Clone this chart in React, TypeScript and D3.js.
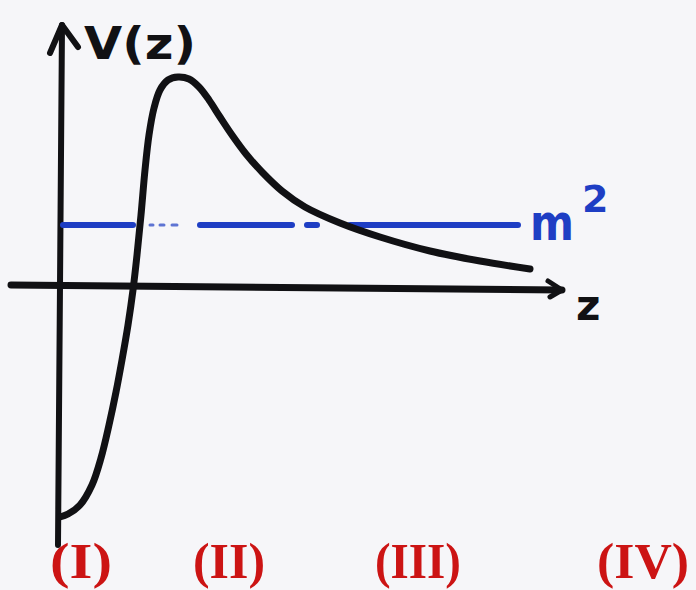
import React from "react";
import * as d3 from "d3";

// Potential V(z) sketched against z
const zValues = [0, 0.16, 0.4, 0.64, 0.82, 0.98, 1.12, 1.24, 1.36, 1.46, 1.54, 1.62, 1.7, 1.78, 1.88, 2.0, 2.16, 2.36, 2.58, 2.78, 2.98, 3.2, 3.44, 3.72, 4.04, 4.44, 4.9, 5.6, 6.4, 7.4, 8.4, 9.4];
const vValues = [-11.5, -11.35, -10.9, -9.9, -8.55, -6.9, -5.25, -3.65, -1.9, -0.15, 1.6, 3.6, 5.85, 7.6, 8.95, 9.85, 10.35, 10.5, 10.4, 10.0, 9.35, 8.5, 7.6, 6.65, 5.75, 4.8, 4.0, 3.2, 2.5, 1.8, 1.3, 0.9];

// Mass-squared level, drawn as a broken hand-drawn line
const massSquared = 3.1;
const massDashStarts = [0.06, 1.8, 2.0, 2.24, 2.8, 4.94, 5.8];
const massDashEnds = [1.46, 1.86, 2.08, 2.34, 4.64, 5.14, 9.16];

// Region labels along the bottom
const regionLabels = ["(I)", "(II)", "(III)", "(IV)"];
const regionCenters = [0.42, 3.38, 7.16, 11.66];
const regionWidths = [62, 72, 86, 92];

const W = 696;
const H = 590;

export default function App() {
  const x = d3.scaleLinear().domain([0, 10]).range([60, 560]);
  const y = d3.scaleLinear().domain([-12.5, 12]).range([537, 47]);

  const pts = zValues.map((z, i) => [z, vValues[i]] as [number, number]);
  const line = d3
    .line<[number, number]>()
    .x((d) => x(d[0]))
    .y((d) => y(d[1]))
    .curve(d3.curveCatmullRom.alpha(0.5));

  const ink = "#111114";
  const blue = "#1e3ec4";
  const red = "#cc1414";

  return (
    <svg width={W} height={H} style={{ display: "block", position: "absolute", left: 0, top: 0 }}>
      <rect width={W} height={H} fill="#f6f6f9" />

      {/* vertical axis with arrow head */}
      <path
        d={`M${x(-0.04)},${y(-12.9)} L${x(0.04)},${y(13.1)}`}
        stroke={ink}
        strokeWidth={6}
        fill="none"
        strokeLinecap="round"
      />
      <path
        d={`M${x(-0.2)},${y(11.7)} L${x(0.04)},${y(13.1)} L${x(0.36)},${y(12.0)}`}
        stroke={ink}
        strokeWidth={6}
        fill="none"
        strokeLinecap="round"
        strokeLinejoin="round"
      />

      {/* horizontal axis with arrow head */}
      <path
        d={`M${x(-0.98)},${y(0.1)} L${x(10.04)},${y(-0.15)}`}
        stroke={ink}
        strokeWidth={7}
        fill="none"
        strokeLinecap="round"
      />
      <path
        d={`M${x(9.76)},${y(0.3)} L${x(10.04)},${y(-0.15)} L${x(9.8)},${y(-0.5)}`}
        stroke={ink}
        strokeWidth={5}
        fill="none"
        strokeLinecap="round"
        strokeLinejoin="round"
      />

      {/* mass-squared level */}
      {massDashStarts.map((s, i) => (
        <line
          key={i}
          x1={x(s)}
          x2={x(massDashEnds[i])}
          y1={y(massSquared)}
          y2={y(massSquared)}
          stroke={blue}
          strokeWidth={i >= 1 && i <= 3 ? 3 : 6}
          strokeLinecap="round"
          opacity={i >= 1 && i <= 3 ? 0.7 : 1}
        />
      ))}

      {/* potential curve */}
      <path d={line(pts) ?? ""} stroke={ink} strokeWidth={7} fill="none" strokeLinecap="round" strokeLinejoin="round" />

      {/* labels */}
      <text
        x={84}
        y={59}
        fontFamily="DejaVu Sans, sans-serif"
        fontWeight="bold"
        fontSize={44}
        fill={ink}
        textLength={112}
        lengthAdjust="spacingAndGlyphs"
      >
        V(z)
      </text>
      <text
        x={530}
        y={240}
        fontFamily="DejaVu Sans, sans-serif"
        fontWeight="bold"
        fontSize={50}
        fill={blue}
        textLength={44}
        lengthAdjust="spacingAndGlyphs"
      >
        m
      </text>
      <text x={582} y={212} fontFamily="DejaVu Sans, sans-serif" fontWeight="bold" fontSize={38} fill={blue}>
        2
      </text>
      <text x={576} y={320} fontFamily="DejaVu Sans, sans-serif" fontWeight="bold" fontSize={42} fill={ink}>
        z
      </text>

      {regionLabels.map((t, i) => (
        <text
          key={t}
          x={x(regionCenters[i])}
          y={578}
          textAnchor="middle"
          fontFamily="Liberation Serif, serif"
          fontWeight="bold"
          fontSize={50}
          fill={red}
          textLength={regionWidths[i]}
          lengthAdjust="spacingAndGlyphs"
        >
          {t}
        </text>
      ))}
    </svg>
  );
}
